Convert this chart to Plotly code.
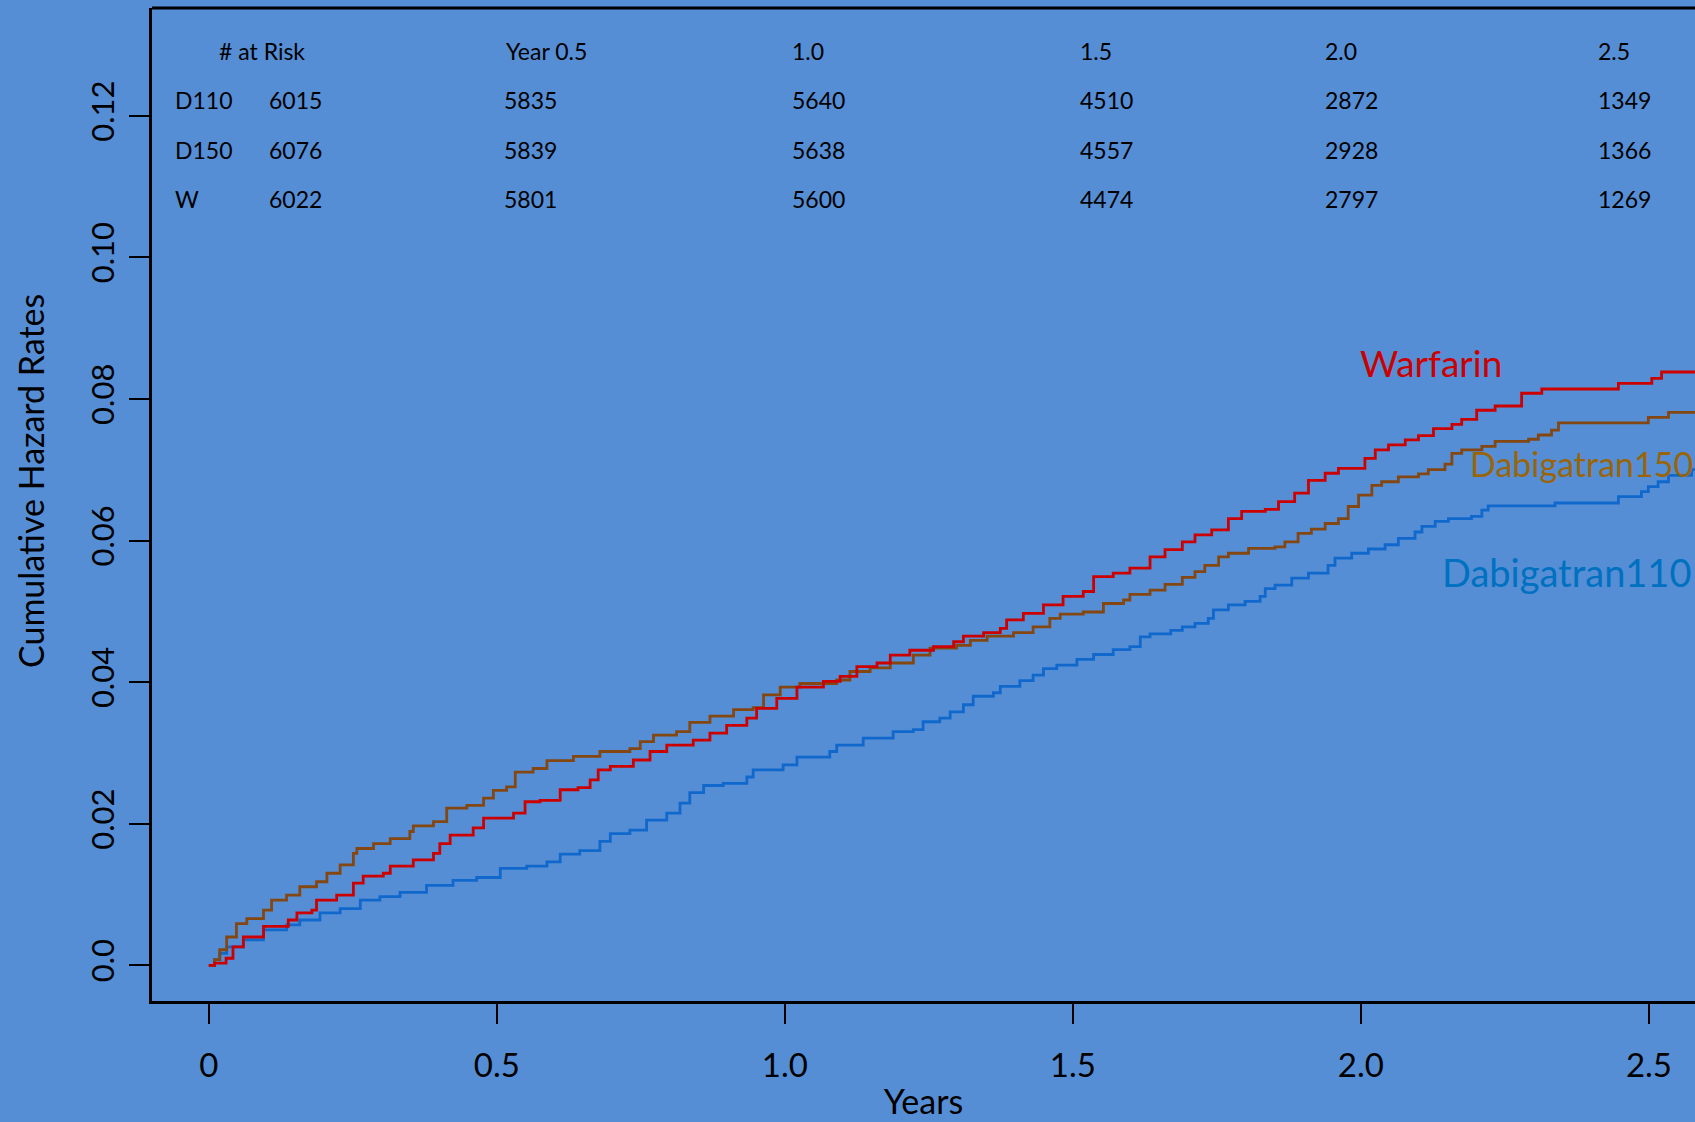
import plotly.graph_objects as go

# ---- data ----
w_t = [0.000, 0.010, 0.030, 0.042, 0.060, 0.095, 0.138, 0.153, 0.179, 0.187, 0.222, 0.251, 0.268, 0.303, 0.315,
       0.355, 0.390, 0.401, 0.419, 0.459, 0.477, 0.529, 0.549, 0.575, 0.610, 0.641, 0.662, 0.676, 0.697, 0.737,
       0.766, 0.795, 0.841, 0.870, 0.899, 0.934, 0.951, 0.986, 1.021, 1.067, 1.096, 1.125, 1.160, 1.183, 1.217,
       1.258, 1.293, 1.310, 1.345, 1.374, 1.385, 1.414, 1.449, 1.483, 1.518, 1.536, 1.570, 1.599, 1.634, 1.660,
       1.690, 1.712, 1.741, 1.770, 1.793, 1.834, 1.857, 1.885, 1.909, 1.938, 1.961, 2.007, 2.025, 2.048, 2.077,
       2.100, 2.126, 2.158, 2.175, 2.201, 2.233, 2.279, 2.314, 2.447, 2.505, 2.522, 2.580]
w_v = [0.0000, 0.0003, 0.0010, 0.0026, 0.0040, 0.0055, 0.0064, 0.0074, 0.0078, 0.0092, 0.0099, 0.0116, 0.0126, 0.0130, 0.0140,
       0.0149, 0.0158, 0.0172, 0.0184, 0.0194, 0.0208, 0.0215, 0.0231, 0.0233, 0.0248, 0.0251, 0.0262, 0.0276, 0.0281, 0.0290,
       0.0302, 0.0311, 0.0318, 0.0328, 0.0339, 0.0349, 0.0363, 0.0377, 0.0393, 0.0401, 0.0408, 0.0422, 0.0427, 0.0438, 0.0445,
       0.0450, 0.0457, 0.0465, 0.0470, 0.0476, 0.0488, 0.0497, 0.0509, 0.0521, 0.0528, 0.0549, 0.0554, 0.0561, 0.0577, 0.0587,
       0.0598, 0.0608, 0.0615, 0.0631, 0.0641, 0.0644, 0.0655, 0.0667, 0.0685, 0.0695, 0.0702, 0.0716, 0.0728, 0.0735, 0.0742,
       0.0748, 0.0758, 0.0764, 0.0771, 0.0784, 0.0790, 0.0808, 0.0814, 0.0822, 0.0829, 0.0838, 0.0838]

d150_t = [0.000, 0.010, 0.019, 0.031, 0.048, 0.066, 0.095, 0.109, 0.135, 0.158, 0.187, 0.205, 0.228, 0.251, 0.257,
          0.286, 0.315, 0.349, 0.355, 0.390, 0.413, 0.448, 0.477, 0.494, 0.517, 0.532, 0.563, 0.587, 0.633, 0.679,
          0.731, 0.749, 0.772, 0.812, 0.835, 0.870, 0.911, 0.945, 0.963, 0.992, 1.026, 1.090, 1.113, 1.148, 1.183,
          1.223, 1.252, 1.298, 1.322, 1.351, 1.397, 1.431, 1.460, 1.478, 1.518, 1.553, 1.588, 1.599, 1.634, 1.660,
          1.690, 1.712, 1.729, 1.753, 1.770, 1.805, 1.851, 1.868, 1.891, 1.914, 1.938, 1.961, 1.978, 1.996, 2.019,
          2.036, 2.065, 2.100, 2.117, 2.146, 2.158, 2.175, 2.210, 2.233, 2.291, 2.308, 2.331, 2.343, 2.499, 2.534, 2.580]
d150_v = [0.0000, 0.0008, 0.0022, 0.0040, 0.0059, 0.0066, 0.0078, 0.0092, 0.0099, 0.0111, 0.0118, 0.0130, 0.0142, 0.0158, 0.0165,
          0.0172, 0.0179, 0.0189, 0.0197, 0.0203, 0.0222, 0.0226, 0.0236, 0.0247, 0.0252, 0.0273, 0.0278, 0.0289, 0.0295, 0.0302,
          0.0306, 0.0316, 0.0325, 0.0330, 0.0343, 0.0352, 0.0361, 0.0364, 0.0382, 0.0393, 0.0398, 0.0403, 0.0415, 0.0420, 0.0427,
          0.0438, 0.0448, 0.0452, 0.0459, 0.0465, 0.0470, 0.0478, 0.0490, 0.0496, 0.0499, 0.0511, 0.0516, 0.0524, 0.0530, 0.0538,
          0.0548, 0.0556, 0.0565, 0.0577, 0.0582, 0.0589, 0.0591, 0.0598, 0.0610, 0.0616, 0.0624, 0.0631, 0.0648, 0.0664, 0.0678,
          0.0683, 0.0690, 0.0694, 0.0700, 0.0708, 0.0723, 0.0728, 0.0733, 0.0740, 0.0743, 0.0749, 0.0756, 0.0766, 0.0774, 0.0781, 0.0781]

d110_t = [0.000, 0.010, 0.019, 0.031, 0.060, 0.095, 0.135, 0.158, 0.193, 0.228, 0.263, 0.297, 0.332, 0.378, 0.424,
          0.465, 0.506, 0.552, 0.587, 0.610, 0.644, 0.679, 0.697, 0.731, 0.760, 0.795, 0.818, 0.835, 0.859, 0.893,
          0.934, 0.945, 0.997, 1.021, 1.078, 1.090, 1.136, 1.188, 1.223, 1.240, 1.269, 1.287, 1.310, 1.327, 1.362,
          1.374, 1.408, 1.431, 1.449, 1.472, 1.507, 1.536, 1.570, 1.599, 1.617, 1.634, 1.670, 1.690, 1.712, 1.735,
          1.744, 1.770, 1.799, 1.825, 1.834, 1.851, 1.880, 1.909, 1.943, 1.955, 1.984, 2.013, 2.042, 2.065, 2.094,
          2.106, 2.129, 2.152, 2.192, 2.210, 2.221, 2.337, 2.447, 2.487, 2.499, 2.516, 2.534, 2.574, 2.580]
d110_v = [0.0000, 0.0008, 0.0017, 0.0026, 0.0036, 0.0050, 0.0057, 0.0064, 0.0074, 0.0080, 0.0092, 0.0097, 0.0103, 0.0113, 0.0120,
          0.0124, 0.0137, 0.0140, 0.0146, 0.0157, 0.0162, 0.0175, 0.0186, 0.0191, 0.0205, 0.0215, 0.0229, 0.0244, 0.0254, 0.0257,
          0.0266, 0.0276, 0.0283, 0.0294, 0.0302, 0.0311, 0.0321, 0.0330, 0.0333, 0.0344, 0.0349, 0.0358, 0.0368, 0.0380, 0.0385,
          0.0394, 0.0402, 0.0410, 0.0419, 0.0424, 0.0432, 0.0439, 0.0446, 0.0450, 0.0464, 0.0468, 0.0473, 0.0478, 0.0483, 0.0490,
          0.0502, 0.0509, 0.0514, 0.0521, 0.0532, 0.0537, 0.0547, 0.0554, 0.0565, 0.0575, 0.0582, 0.0588, 0.0594, 0.0603, 0.0612,
          0.0620, 0.0627, 0.0631, 0.0634, 0.0643, 0.0649, 0.0653, 0.0662, 0.0669, 0.0676, 0.0683, 0.0692, 0.0700, 0.0700]

risk_header = ["# at Risk", "Year 0.5", "1.0", "1.5", "2.0", "2.5"]
risk_groups = ["D110", "D150", "W"]
risk_d110 = [6015, 5835, 5640, 4510, 2872, 1349]
risk_d150 = [6076, 5839, 5638, 4557, 2928, 1366]
risk_w = [6022, 5801, 5600, 4474, 2797, 1269]

x_ticks = [0, 0.5, 1.0, 1.5, 2.0, 2.5]
x_ticktext = ["0", "0.5", "1.0", "1.5", "2.0", "2.5"]
y_ticks = [0.0, 0.02, 0.04, 0.06, 0.08, 0.10, 0.12]
y_ticktext = ["0.0", "0.02", "0.04", "0.06", "0.08", "0.10", "0.12"]

# ---- style ----
BG = "#558ED5"
FONT = "Lato"
C_W, C_150, C_110 = "#CC0000", "#854711", "#1068CC"
L_W, L_150, L_110 = "#CC0000", "#9A6508", "#0070C0"

fig = go.Figure()
fig.add_trace(go.Scatter(x=d110_t, y=d110_v, mode="lines", line=dict(color=C_110, width=2.8, shape="hv"),
                         name="Dabigatran110", showlegend=False))
fig.add_trace(go.Scatter(x=d150_t, y=d150_v, mode="lines", line=dict(color=C_150, width=2.8, shape="hv"),
                         name="Dabigatran150", showlegend=False))
fig.add_trace(go.Scatter(x=w_t, y=w_v, mode="lines", line=dict(color=C_W, width=2.8, shape="hv"),
                         name="Warfarin", showlegend=False))

ann = []
# at-risk table
col_x = [0.101, 0.509, 1.009, 1.509, 1.934, 2.408]
head_x = [0.014, 0.5125, 1.009, 1.509, 1.934, 2.408]
row_y = [0.1222, 0.1151, 0.1082]
head_y = 0.1291
tfont = dict(family=FONT, size=23, color="black")
for hx, h in zip(head_x, risk_header):
    ann.append(dict(x=hx, y=head_y, text=h, xanchor="left", yanchor="middle", showarrow=False, font=tfont))
for ry, g, counts in zip(row_y, risk_groups, [risk_d110, risk_d150, risk_w]):
    ann.append(dict(x=-0.0622, y=ry, text=g, xanchor="left", yanchor="middle", showarrow=False, font=tfont))
    for cx, c in zip(col_x, counts):
        ann.append(dict(x=cx, y=ry, text=str(c), xanchor="left", yanchor="middle", showarrow=False, font=tfont))

# curve labels
ann.append(dict(x=1.995, y=0.0851, text="Warfarin", xanchor="left", yanchor="middle", showarrow=False,
                font=dict(family=FONT, size=37, color=L_W)))
ann.append(dict(x=2.186, y=0.0709, text="Dabigatran150", xanchor="left", yanchor="middle", showarrow=False,
                font=dict(family=FONT, size=34, color=L_150)))
ann.append(dict(x=2.138, y=0.0556, text="Dabigatran110", xanchor="left", yanchor="middle", showarrow=False,
                font=dict(family=FONT, size=38, color=L_110)))

# y title
ann.append(dict(x=0, y=0, xref="paper", yref="paper", text="Cumulative Hazard Rates", textangle=-90,
                showarrow=False, font=dict(family=FONT, size=34, color="black")))

fig.update_layout(
    width=1695, height=1122,
    margin=dict(l=152, r=0, t=8, b=121),
    paper_bgcolor=BG, plot_bgcolor=BG,
    font=dict(family=FONT, color="black"),
    showlegend=False,
    annotations=ann,
    shapes=[dict(type="line", xref="paper", yref="paper", x0=0, x1=1, y0=1, y1=1,
                 line=dict(color="black", width=3))],
    xaxis=dict(range=[-0.0986, 2.580], tickvals=x_ticks, ticktext=x_ticktext,
               ticks="outside", ticklen=20, tickwidth=2, tickcolor="black",
               showline=True, linecolor="black", linewidth=3, showgrid=False, zeroline=False,
               tickfont=dict(family=FONT, size=33, color="black"), ticklabelstandoff=13,
               title=dict(text="Years", font=dict(family=FONT, size=34, color="black"), standoff=8)),
    yaxis=dict(range=[-0.00504, 0.13521], tickvals=y_ticks, ticktext=y_ticktext,
               ticks="outside", ticklen=20, tickwidth=2, tickcolor="black", tickangle=-90,
               showline=True, linecolor="black", linewidth=3, showgrid=False, zeroline=False,
               tickfont=dict(family=FONT, size=31, color="black"), ticklabelstandoff=3),
)
# place y-title annotation using pixel position converted to paper coords
pw, ph = 1695 - 152, 1122 - 8 - 121
for a in fig.layout.annotations:
    if a.text == "Cumulative Hazard Rates":
        a.x = (30 - 152) / pw
        a.y = (1122 - 121 - 481) / ph
        a.xanchor = "center"
        a.yanchor = "middle"

fig.write_html("out.html")
